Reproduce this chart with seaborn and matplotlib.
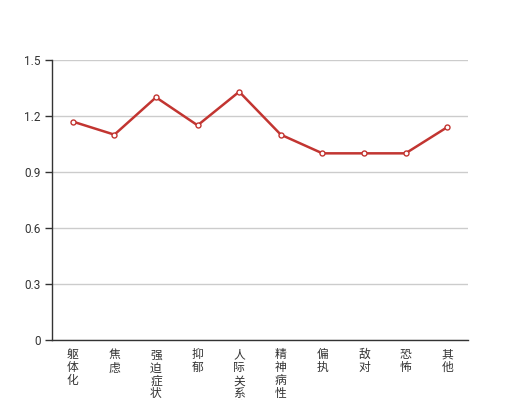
import numpy as np
import pandas as pd
import matplotlib
matplotlib.use("Agg")
import matplotlib.pyplot as plt
import seaborn as sns
from matplotlib.ticker import FixedLocator

# data
categories = ["躯体化", "焦虑", "强迫症状", "抑郁", "人际关系敏感",
              "精神病性", "偏执", "敌对", "恐怖", "其他"]
values = [1.17, 1.10, 1.30, 1.15, 1.33, 1.10, 1.00, 1.00, 1.00, 1.14]
y_ticks = [0, 0.3, 0.6, 0.9, 1.2, 1.5]

sns.set_style("white")
plt.rcParams['font.family'] = ['Noto Sans CJK SC', 'DejaVu Sans']

df = pd.DataFrame({"cat": categories, "val": values})

fig = plt.figure(figsize=(5.2, 4), dpi=100)
ax = fig.add_axes([52 / 520, 60 / 400, 416 / 520, 280 / 400])

sns.lineplot(data=df, x="cat", y="val", ax=ax, color="#c23531", linewidth=1.8,
             marker="o", markersize=3.6, markerfacecolor="white",
             markeredgecolor="#c23531", markeredgewidth=1, sort=False, zorder=3)

ax.set_xlim(-0.5, len(categories) - 0.5)
ax.set_ylim(0, 1.5)
ax.set_yticks(y_ticks)
ax.set_yticklabels([str(t) if t != 0 else "0" for t in y_ticks], family="Roboto")
ax.yaxis.grid(True, color="#cccccc", linewidth=1)
ax.set_axisbelow(True)

ax.set_xticks(range(len(categories)))
ax.set_xticklabels(["\n".join(c) for c in categories], va="top", linespacing=1.0)
ax.xaxis.set_minor_locator(FixedLocator(np.arange(-0.5, len(categories), 1.0)))
ax.tick_params(axis="x", which="major", length=0, pad=6, labelsize=8.5, colors="#333333")
ax.tick_params(axis="x", which="minor", length=5, width=1, color="#333333", direction="out")
ax.tick_params(axis="y", length=5, width=1, color="#333333", labelsize=8.5, pad=3,
               labelcolor="#333333", direction="out", left=True)

for s in ["top", "right"]:
    ax.spines[s].set_visible(False)
for s in ["left", "bottom"]:
    ax.spines[s].set_color("#333333")
    ax.spines[s].set_linewidth(1)

ax.set_xlabel("")
ax.set_ylabel("")

fig.savefig("out.png", dpi=100)
